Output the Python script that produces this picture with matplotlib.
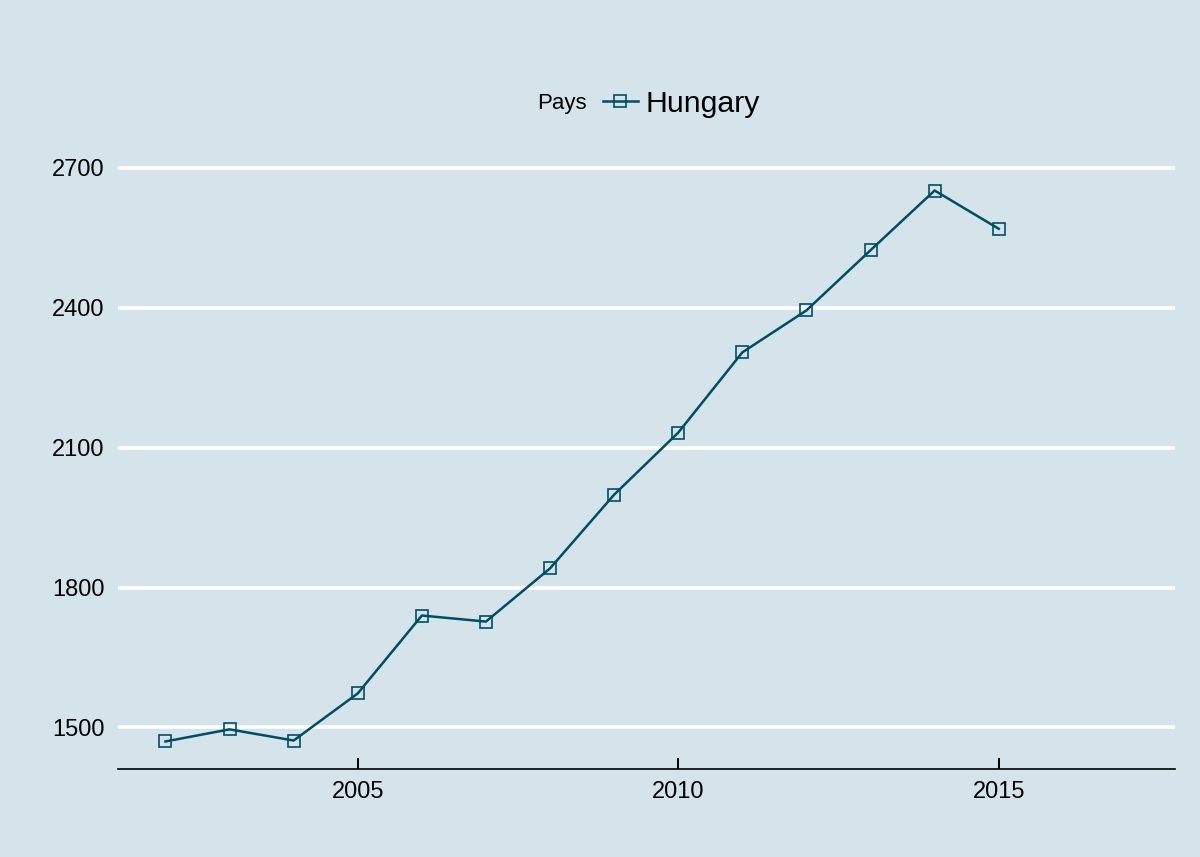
import matplotlib.pyplot as plt

years = [2002, 2003, 2004, 2005, 2006, 2007, 2008, 2009, 2010, 2011, 2012, 2013, 2014, 2015]
values = [1470, 1496, 1472, 1573, 1740, 1727, 1841, 1999, 2132, 2304, 2394, 2523, 2651, 2569]
country = "Hungary"
yticks = [1500, 1800, 2100, 2400, 2700]
xticks = [2005, 2010, 2015]

bg = "#d5e4eb"
line_col = "#014d64"

plt.rcParams["font.family"] = ["Liberation Sans", "DejaVu Sans"]

fig = plt.figure(figsize=(12, 8.57), dpi=100, facecolor=bg)
ax = fig.add_axes([118 / 1200, 1 - 769 / 857, (1175 - 118) / 1200, (769 - 163) / 857])
ax.set_facecolor(bg)

line, = ax.plot(years, values, color=line_col, lw=1.8, marker="s", markersize=8.5,
                markerfacecolor="none", markeredgecolor=line_col, markeredgewidth=1.2,
                label=country, zorder=3)

ax.set_xlim(2001.26, 2017.75)
ax.set_ylim(1411, 2710)
ax.set_xticks(xticks)
ax.set_yticks(yticks)
ax.yaxis.grid(True, color="white", lw=2.6)
ax.set_axisbelow(True)

for s in ["top", "right", "left"]:
    ax.spines[s].set_visible(False)
ax.spines["bottom"].set_color("black")
ax.spines["bottom"].set_linewidth(1.2)

ax.tick_params(axis="y", length=0, pad=9.5, labelsize=17, labelcolor="black")
ax.tick_params(axis="x", direction="in", length=8, width=1.4, pad=9, labelsize=17,
               labelcolor="black")

fig.text(537 / 1200, 1 - 104 / 857, "Pays", fontsize=16, va="center", ha="left")
leg = fig.legend(handles=[line], labels=[country], loc="center left",
                 bbox_to_anchor=(603 / 1200, 1 - 104 / 857), frameon=False,
                 fontsize=21.8, handlelength=1.15, handletextpad=0.25, borderpad=0,
                 borderaxespad=0)

fig.savefig("out.png", dpi=100, facecolor=bg)
